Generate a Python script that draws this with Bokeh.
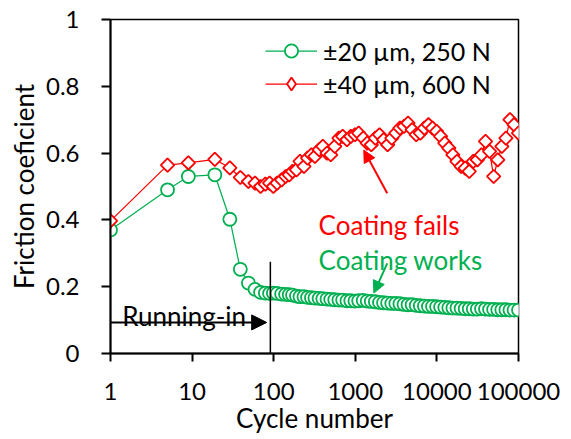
from bokeh.plotting import figure
from bokeh.models import (Range1d, FixedTicker, Legend, LegendItem, Arrow,
                          NormalHead, Label)
from bokeh.embed import file_html
from bokeh.resources import INLINE

# ---------------- data ----------------
cycles = [1, 5, 9, 19, 29, 39, 49, 59, 69, 79, 89, 99,
          110, 125, 140, 155, 170, 190, 210, 235, 260, 290,
          320, 360, 400, 450, 500, 560, 630, 700, 790, 880,
          990, 1100, 1250, 1400, 1570, 1760, 1980, 2220, 2490, 2800,
          3140, 3520, 3950, 4430, 4970, 5580, 6260, 7020, 7880, 8840,
          9920, 11100, 12500, 14000, 15700, 17600, 19800, 22200, 24900, 27900,
          31300, 35200, 39400, 44200, 49600, 55700, 62500, 70100, 78600, 88200,
          100000]

green_cof = [0.370, 0.490, 0.530, 0.535, 0.402, 0.252, 0.211, 0.192, 0.183, 0.181, 0.180, 0.181,
             0.180, 0.178, 0.177, 0.176, 0.175, 0.172, 0.170, 0.170, 0.168, 0.167,
             0.166, 0.165, 0.164, 0.163, 0.162, 0.161, 0.160, 0.160, 0.158, 0.158,
             0.157, 0.158, 0.159, 0.157, 0.156, 0.155, 0.153, 0.152, 0.151, 0.150,
             0.150, 0.149, 0.147, 0.146, 0.146, 0.144, 0.143, 0.142, 0.141, 0.141,
             0.140, 0.139, 0.138, 0.137, 0.136, 0.136, 0.135, 0.134, 0.134, 0.133,
             0.133, 0.134, 0.133, 0.132, 0.132, 0.131, 0.131, 0.131, 0.130, 0.130,
             0.130]

red_cof = [0.397, 0.564, 0.571, 0.581, 0.556, 0.527, 0.515, 0.510, 0.500, 0.507, 0.510, 0.500,
           0.510, 0.520, 0.530, 0.535, 0.545, 0.550, 0.575, 0.560, 0.585, 0.595,
           0.590, 0.610, 0.620, 0.600, 0.595, 0.620, 0.645, 0.650, 0.640, 0.650,
           0.655, 0.660, 0.645, 0.630, 0.625, 0.645, 0.655, 0.640, 0.625, 0.645,
           0.660, 0.675, 0.680, 0.690, 0.670, 0.655, 0.660, 0.675, 0.685, 0.675,
           0.665, 0.650, 0.630, 0.615, 0.595, 0.575, 0.560, 0.555, 0.545, 0.575,
           0.580, 0.595, 0.635, 0.605, 0.530, 0.580, 0.620, 0.645, 0.700, 0.685,
           0.660]

series_labels = ["±20 µm, 250 N", "±40 µm, 600 N"]

x_ticks = [1, 10, 100, 1000, 10000, 100000]
x_tick_labels = ["1", "10", "100", "1000", "10000", "100000"]
y_ticks = [0, 0.2, 0.4, 0.6, 0.8, 1]
y_tick_labels = ["0", "0.2", "0.4", "0.6", "0.8", "1"]

# annotations (data units)
running_in_text = "Running-in"
running_in_arrow = (1, 0.093, 82, 0.093)
running_in_line = (91, 0.0, 91, 0.275)
running_in_text_pos = (1.39, 0.111)
fails_text = "Coating fails"
fails_text_pos = (355, 0.385)
fails_arrow = (2460, 0.48, 1270, 0.609)
works_text = "Coating works"
works_text_pos = (355, 0.281)
works_arrow = (2460, 0.27, 1690, 0.181)

GREEN = "#00B050"
RED = "#FF0000"
FONT = "Lato"
FS = "26px"
LEG_FS = "25px"
TICK_FS = "24px"

# ---------------- figure ----------------
p = figure(width=568, height=436, x_axis_type="log",
           x_range=Range1d(1, 100000), y_range=Range1d(0, 1),
           output_backend="svg", toolbar_location=None,
           min_border_left=110, min_border_right=50,
           min_border_top=19, min_border_bottom=82)

p.background_fill_color = "white"
p.border_fill_color = "white"
p.outline_line_color = "black"
p.outline_line_width = 1.5
p.xgrid.grid_line_color = None
p.ygrid.grid_line_color = None

p.xaxis.ticker = FixedTicker(ticks=x_ticks)
p.xaxis.major_label_overrides = dict(zip(x_ticks, x_tick_labels))
p.yaxis.ticker = FixedTicker(ticks=y_ticks)
p.yaxis.major_label_overrides = dict(zip(y_ticks, y_tick_labels))

p.xaxis.axis_label = "Cycle number"
p.yaxis.axis_label = "Friction coeficient"
for ax in (p.xaxis, p.yaxis):
    ax.axis_line_color = "black"
    ax.axis_line_width = 2
    ax.major_tick_line_color = "black"
    ax.major_tick_line_width = 2
    ax.major_tick_in = 0
    ax.minor_tick_line_color = None
    ax.major_label_text_font = FONT
    ax.major_label_text_font_size = TICK_FS
    ax.major_label_text_color = "black"
    ax.axis_label_text_font = FONT
    ax.axis_label_text_font_size = FS
    ax.axis_label_text_font_style = "normal"
    ax.axis_label_text_color = "black"
p.xaxis.major_tick_out = 8
p.yaxis.major_tick_out = 9
p.xaxis.major_label_standoff = 21
p.yaxis.major_label_standoff = 22
p.xaxis.axis_label_standoff = -1
p.yaxis.axis_label_standoff = 3

# ---------------- series ----------------
g_line = p.line(cycles, green_cof, line_color=GREEN, line_width=1.25)
g_pts = p.scatter(cycles, green_cof, marker="circle", size=13,
                  line_color=GREEN, line_width=1.8, fill_color="white")
r_line = p.line(cycles, red_cof, line_color=RED, line_width=1.25)
# diamond glyph used as the legend key (legend markers are never rotated);
# it sits hidden underneath the rotated squares drawn next
r_key = p.scatter(cycles, red_cof, marker="diamond", size=12,
                  line_color=RED, line_width=1.8, fill_color="white")
r_pts = p.scatter(cycles, red_cof, marker="square", angle=0.785398, size=9.5,
                  line_color=RED, line_width=1.8, fill_color="white")

legend = Legend(items=[LegendItem(label=series_labels[0], renderers=[g_line, g_pts]),
                       LegendItem(label=series_labels[1], renderers=[r_line, r_key])],
                location=(155, 253), padding=0, margin=0, spacing=0,
                glyph_width=52, glyph_height=33, label_height=33,
                label_standoff=6, border_line_color=None,
                background_fill_alpha=0,
                label_text_font=FONT, label_text_font_size=LEG_FS,
                label_text_color="black")
p.add_layout(legend)

# ---------------- annotations ----------------
p.add_layout(Arrow(x_start=running_in_arrow[0], y_start=running_in_arrow[1],
                   x_end=running_in_arrow[2], y_end=running_in_arrow[3],
                   line_color="black", line_width=2,
                   end=NormalHead(size=15, fill_color="black", line_color="black")))
p.segment(x0=[running_in_line[0]], y0=[running_in_line[1]],
          x1=[running_in_line[2]], y1=[running_in_line[3]],
          line_color="black", line_width=1.5)
p.add_layout(Label(x=running_in_text_pos[0], y=running_in_text_pos[1],
                   text=running_in_text, text_font=FONT, text_font_size=FS,
                   text_color="black", text_baseline="alphabetic"))

p.add_layout(Arrow(x_start=fails_arrow[0], y_start=fails_arrow[1],
                   x_end=fails_arrow[2], y_end=fails_arrow[3],
                   line_color=RED, line_width=2,
                   end=NormalHead(size=12, fill_color=RED, line_color=RED)))
p.add_layout(Label(x=fails_text_pos[0], y=fails_text_pos[1], text=fails_text,
                   text_font=FONT, text_font_size=FS, text_color=RED,
                   text_baseline="alphabetic"))

p.add_layout(Arrow(x_start=works_arrow[0], y_start=works_arrow[1],
                   x_end=works_arrow[2], y_end=works_arrow[3],
                   line_color=GREEN, line_width=2,
                   end=NormalHead(size=12, fill_color=GREEN, line_color=GREEN)))
p.add_layout(Label(x=works_text_pos[0], y=works_text_pos[1], text=works_text,
                   text_font=FONT, text_font_size=FS, text_color=GREEN,
                   text_baseline="alphabetic"))

open("out.html", "w").write(file_html(p, INLINE))
